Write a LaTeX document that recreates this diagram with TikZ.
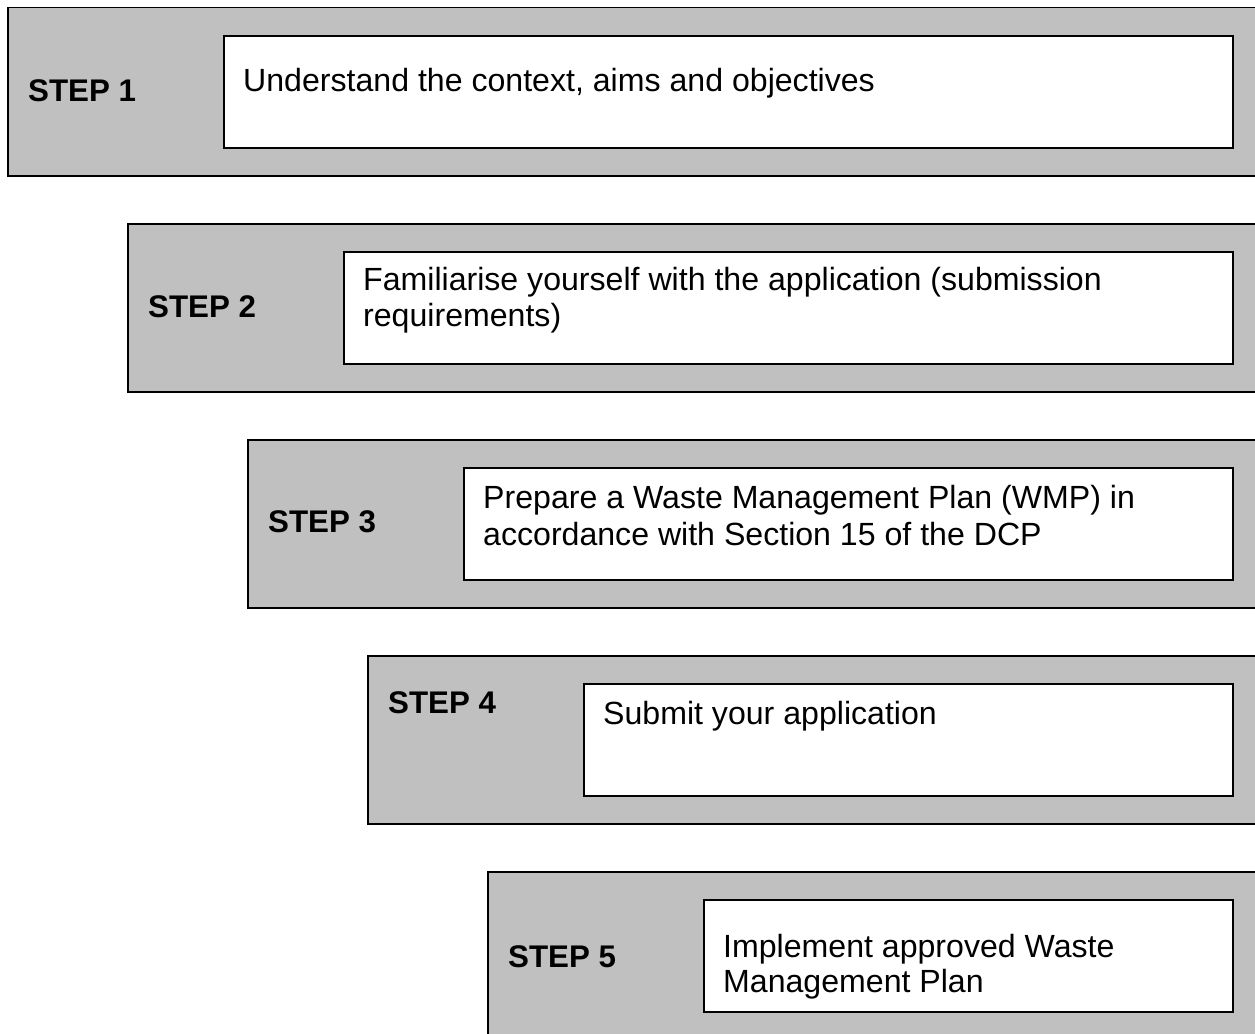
\documentclass[tikz,border=0pt]{standalone}
\usepackage{fontspec}
\setmainfont{Liberation Sans}
\definecolor{stepgray}{HTML}{C0C0C0}
\begin{document}
\begin{tikzpicture}[x=1pt,y=-1pt,
  outerbox/.style={draw=black,fill=stepgray,line width=1.5pt,anchor=north west,inner sep=0pt,minimum height=168pt,minimum width=1258pt},
  innerbox/.style={draw=black,fill=white,line width=2pt,anchor=north west,inner sep=0pt,minimum height=112pt},
  steplabel/.style={anchor=base west,inner sep=0pt,font=\fontsize{31.3}{36}\selectfont\bfseries},
  bodytext/.style={anchor=base west,inner sep=0pt,font=\fontsize{32.1}{36.5}\selectfont}]
\useasboundingbox (0,0) rectangle (1255,1033);
\clip (0,0) rectangle (1255,1033);
\fill[white] (0,0) rectangle (1255,1033);
% step 1
\node[outerbox] (o1) at (7,7) {};
\node[innerbox,minimum width=1009pt] (i1) at (223,35) {};
\node[steplabel] (s1) at (28,101) {STEP 1};
\node[bodytext] (t1) at (243,92) {Understand the context, aims and objectives};
% step 2
\node[outerbox] (o2) at (127,223) {};
\node[innerbox,minimum width=889pt] (i2) at (343,251) {};
\node[steplabel] (s2) at (148,317) {STEP 2};
\node[bodytext] (t2a) at (363,290) {Familiarise yourself with the application (submission};
\node[bodytext] (t2b) at (363,326) {requirements)};
% step 3
\node[outerbox] (o3) at (247,439) {};
\node[innerbox,minimum width=769pt] (i3) at (463,467) {};
\node[steplabel] (s3) at (268,532) {STEP 3};
\node[bodytext] (t3a) at (483,508) {Prepare a Waste Management Plan (WMP) in};
\node[bodytext] (t3b) at (483,545) {accordance with Section 15 of the DCP};
% step 4
\node[outerbox] (o4) at (367,655) {};
\node[innerbox,minimum width=649pt] (i4) at (583,683) {};
\node[steplabel] (s4) at (388,713) {STEP 4};
\node[bodytext] (t4) at (603,724) {Submit your application};
% step 5
\node[outerbox] (o5) at (487,871) {};
\node[innerbox,minimum width=529pt] (i5) at (703,899) {};
\node[steplabel] (s5) at (508,967) {STEP 5};
\node[bodytext] (t5a) at (723,957) {Implement approved Waste};
\node[bodytext] (t5b) at (723,992) {Management Plan};
\end{tikzpicture}
\end{document}
